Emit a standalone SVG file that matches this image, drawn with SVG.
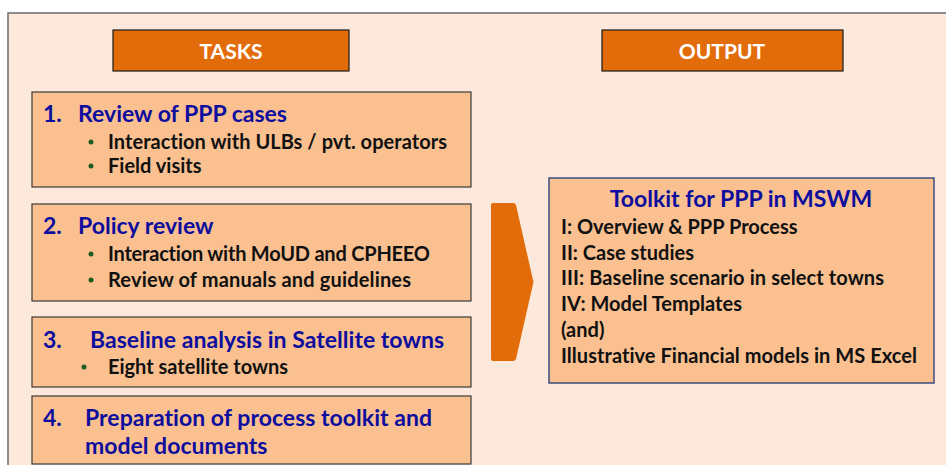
<svg xmlns="http://www.w3.org/2000/svg" width="946" height="465" viewBox="0 0 946 465">
  <style>
    text { font-family: Lato, "Liberation Sans", sans-serif; font-weight: bold; font-variant-ligatures: none; }
    .hdr { fill: #E36C0A; stroke: #1a1a1a; stroke-width: 1.2; }
    .hdr-t { font-size: 21px; fill: #ffffff; text-anchor: middle; }
    .task { fill: #FAC090; stroke: #3a3a3a; stroke-width: 1.2; }
    .out { fill: #FAC090; stroke: #3B4E7E; stroke-width: 1.5; }
    .ttl { font-size: 23px; fill: #0D0D9E; }
    .txt { font-size: 20px; fill: #111111; }
    .dot { fill: #1E5B1E; }
  </style>

  <!-- slide background with frame -->
  <rect x="8" y="13" width="950" height="470" fill="#FCE9DB" stroke="#6b6b6b" stroke-width="1.5"/>

  <!-- column headers -->
  <g id="tasks-header">
    <rect class="hdr" x="113" y="30" width="236" height="41"/>
    <text class="hdr-t" x="231" y="59">TASKS</text>
  </g>
  <g id="output-header">
    <rect class="hdr" x="602" y="30" width="241" height="41"/>
    <text class="hdr-t" x="722" y="59">OUTPUT</text>
  </g>

  <!-- task 1 -->
  <g id="task-1">
    <rect class="task" x="32" y="92" width="439" height="95"/>
    <text class="ttl" x="43" y="122">1.</text>
    <text class="ttl" x="78" y="122">Review of PPP cases</text>
    <circle class="dot" cx="91" cy="142" r="2.5"/>
    <text class="txt" x="108" y="149" textLength="339">Interaction with ULBs / pvt. operators</text>
    <circle class="dot" cx="91" cy="166" r="2.5"/>
    <text class="txt" x="108" y="173">Field visits</text>
  </g>

  <!-- task 2 -->
  <g id="task-2">
    <rect class="task" x="32" y="204" width="439" height="97"/>
    <text class="ttl" x="43" y="234">2.</text>
    <text class="ttl" x="78" y="234">Policy review</text>
    <circle class="dot" cx="91" cy="254" r="2.5"/>
    <text class="txt" x="108" y="261" textLength="322">Interaction with MoUD and CPHEEO</text>
    <circle class="dot" cx="91" cy="280" r="2.5"/>
    <text class="txt" x="108" y="287" textLength="303">Review of manuals and guidelines</text>
  </g>

  <!-- task 3 -->
  <g id="task-3">
    <rect class="task" x="32" y="317" width="439" height="70"/>
    <text class="ttl" x="43" y="348">3.</text>
    <text class="ttl" x="90" y="348" textLength="354">Baseline analysis in Satellite towns</text>
    <circle class="dot" cx="84" cy="367" r="2.5"/>
    <text class="txt" x="108" y="374">Eight satellite towns</text>
  </g>

  <!-- task 4 -->
  <g id="task-4">
    <rect class="task" x="32" y="396" width="439" height="68"/>
    <text class="ttl" x="43" y="426">4.</text>
    <text class="ttl" x="85" y="426" textLength="347">Preparation of process toolkit and</text>
    <text class="ttl" x="85" y="454">model documents</text>
  </g>

  <!-- chevron leading from tasks to output -->
  <g id="connectors">
    <path d="M 493 203 L 513 203 Q 515 203 516 205 L 533 280 Q 534 282 533 284 L 516 359 Q 515 361 513 361 L 493 361 Q 491 361 491 359 L 491 205 Q 491 203 493 203 Z" fill="#E36C0A"/>
  </g>

  <!-- output box -->
  <g id="output">
    <rect class="out" x="549" y="178" width="385" height="205"/>
    <text class="ttl" x="741" y="207" text-anchor="middle">Toolkit for PPP in MSWM</text>
    <text class="txt" x="561" y="234">I: Overview &amp; PPP Process</text>
    <text class="txt" x="561" y="260">II: Case studies</text>
    <text class="txt" x="561" y="285" textLength="323">III: Baseline scenario in select towns</text>
    <text class="txt" x="561" y="311">IV: Model Templates</text>
    <text class="txt" x="561" y="337">(and)</text>
    <text class="txt" x="561" y="363" textLength="356">Illustrative Financial models in MS Excel</text>
  </g>
</svg>
